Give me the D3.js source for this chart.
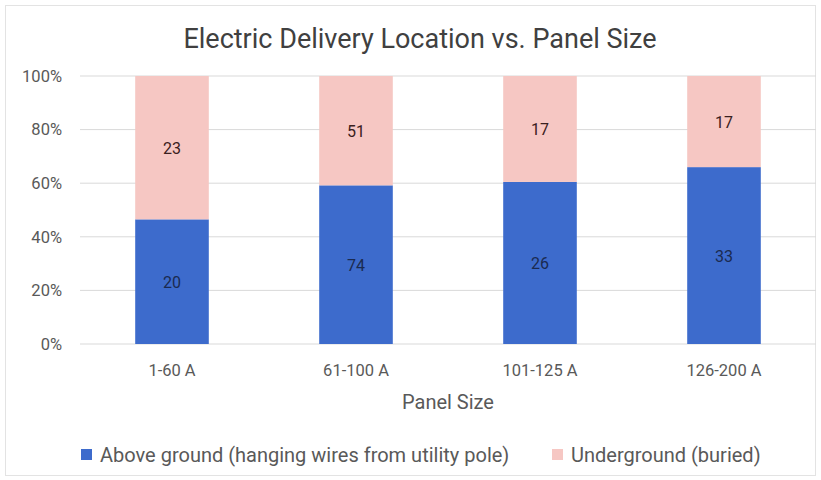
<!DOCTYPE html>
<html>
<head>
<meta charset="utf-8">
<script src="https://cdn.jsdelivr.net/npm/d3@7"></script>
<style>
  body { margin: 0; background: #fff; }
  text { font-family: Roboto, "Open Sans", sans-serif; }
</style>
</head>
<body>
<div id="chart"></div>
<script>
// data
var categories = ["1-60 A", "61-100 A", "101-125 A", "126-200 A"];
var aboveGround = [20, 74, 26, 33];
var underground = [23, 51, 17, 17];
var seriesNames = ["Above ground (hanging wires from utility pole)", "Underground (buried)"];
var yTicks = [0, 0.2, 0.4, 0.6, 0.8, 1];

var W = 821, H = 480;
var margin = { top: 76, right: 5, bottom: 136, left: 80 },
    width = W - margin.left - margin.right,
    height = H - margin.top - margin.bottom;

var colors = ["#3d6bcc", "#f6c7c3"];

var svg = d3.select("#chart").append("svg")
    .attr("width", W).attr("height", H);

// outer border
svg.append("rect")
    .attr("x", 5.5).attr("y", 5.5)
    .attr("width", W - 11).attr("height", H - 10)
    .attr("fill", "#fff").attr("stroke", "#e3e3e3");

// title
svg.append("text")
    .attr("x", 420).attr("y", 48)
    .attr("text-anchor", "middle")
    .attr("font-size", 27)
    .attr("fill", "#404040")
    .text("Electric Delivery Location vs. Panel Size");

var g = svg.append("g")
    .attr("transform", "translate(" + margin.left + "," + margin.top + ")");

var x = d3.scaleBand().domain(categories).range([0, width]).paddingInner(0.6).paddingOuter(0.3);
var y = d3.scaleLinear().domain([0, 1]).range([height, 0]);

// gridlines
g.append("g").selectAll("line")
    .data(yTicks)
    .enter().append("line")
    .attr("x1", 0).attr("x2", width)
    .attr("y1", function (d) { return y(d); })
    .attr("y2", function (d) { return y(d); })
    .attr("stroke", "#d9d9d9").attr("stroke-width", 1);

// y axis
var yAxis = g.append("g")
    .call(d3.axisLeft(y).tickValues(yTicks).tickFormat(d3.format(".0%")).tickSize(0).tickPadding(18));
yAxis.select(".domain").remove();
yAxis.selectAll("text").attr("font-size", 16.5).attr("fill", "#595959")
    .attr("font-family", "Roboto, sans-serif");

// stacked data
var rows = categories.map(function (c, i) {
    return { cat: c, a: aboveGround[i], u: underground[i] };
});
var stack = d3.stack().keys(["a", "u"]).offset(d3.stackOffsetExpand);
var layers = stack(rows);

var layer = g.selectAll(".layer")
    .data(layers)
    .enter().append("g")
    .attr("fill", function (d, i) { return colors[i]; });

layer.selectAll("rect")
    .data(function (d) { return d; })
    .enter().append("rect")
    .attr("x", function (d) { return x(d.data.cat); })
    .attr("width", x.bandwidth())
    .attr("y", function (d) { return y(d[1]); })
    .attr("height", function (d) { return y(d[0]) - y(d[1]); });

// value labels
layers.forEach(function (L) {
    g.selectAll(".lbl-" + L.key)
        .data(L)
        .enter().append("text")
        .attr("x", function (d) { return x(d.data.cat) + x.bandwidth() / 2; })
        .attr("y", function (d) { return (y(d[0]) + y(d[1])) / 2 + 6; })
        .attr("text-anchor", "middle")
        .attr("font-size", 16)
        .attr("fill", L.key === "a" ? "#1a2a50" : "#3a2020")
        .text(function (d) { return d.data[L.key]; });
});

// x axis
var xAxis = g.append("g")
    .attr("transform", "translate(0," + height + ")")
    .call(d3.axisBottom(x).tickSize(0).tickPadding(20));
xAxis.select(".domain").remove();
xAxis.selectAll("text").attr("font-size", 16.5).attr("fill", "#595959")
    .attr("font-family", "Roboto, sans-serif");

// axis title
svg.append("text")
    .attr("x", 448).attr("y", 409)
    .attr("text-anchor", "middle")
    .attr("font-size", 20)
    .attr("fill", "#595959")
    .text("Panel Size");

// legend
var legendX = [81, 552];
var legend = svg.selectAll(".legend")
    .data(seriesNames)
    .enter().append("g")
    .attr("transform", function (d, i) { return "translate(" + legendX[i] + ",455)"; });
legend.append("rect")
    .attr("x", 0).attr("y", -6)
    .attr("width", 11).attr("height", 11)
    .attr("fill", function (d, i) { return colors[i]; });
legend.append("text")
    .attr("x", 19).attr("y", 7)
    .attr("font-size", 20)
    .attr("fill", "#595959")
    .text(function (d) { return d; });
</script>
</body>
</html>
